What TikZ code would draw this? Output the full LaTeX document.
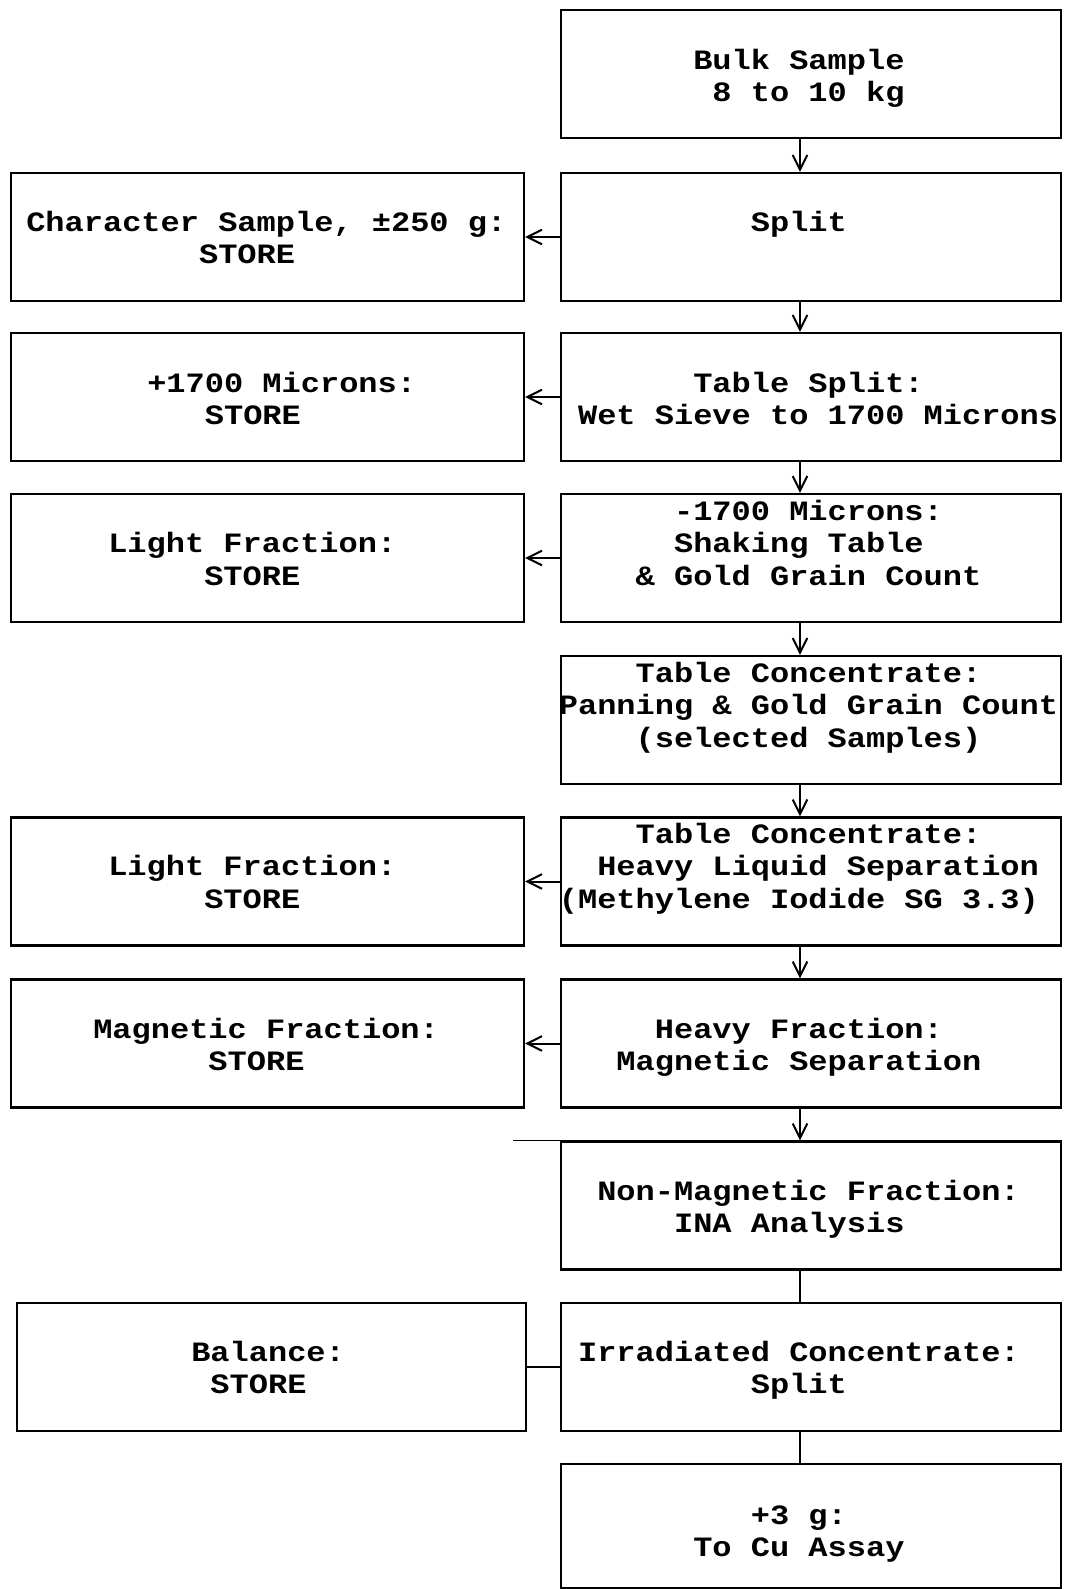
\documentclass[tikz,border=0pt]{standalone}
\usepackage{fontspec}
\newfontfamily\typew[FakeStretch=1.142857]{Liberation Mono}
\usetikzlibrary{arrows.meta}
\newlength\chw \setlength\chw{14.4pt}
\newcommand\pd[1]{\hspace*{#1\chw}}
\newcommand\fs{\rule{0pt}{18pt}}
\begin{document}
\begin{tikzpicture}[x=0.75pt,y=-0.75pt,
  box/.style={draw,line width=1.6pt,rectangle,inner sep=0pt,minimum height=96pt},
  rbox/.style={box,minimum width=375pt},
  lbox/.style={box,minimum width=384.75pt},
  txt/.style={anchor=north west,inner sep=0pt,align=left,font=\typew\bfseries\fontsize{21}{24.4}\selectfont},
  arr/.style={line width=1.5pt,-{Straight Barb[length=11pt,width=11pt,line width=1.5pt]}},
  ln/.style={line width=1.5pt}]
\useasboundingbox (0,0) rectangle (1066,1589);
\coordinate (ax) at (800,0);
% right column
\node[rbox] (b1) at (811,74) {};
\node[rbox] (b2) at (811,237) {};
\node[rbox] (b3) at (811,397) {};
\node[rbox] (b4) at (811,558) {};
\node[rbox] (b5) at (811,720) {};
\node[rbox] (b6) at (811,881.5) {};
\node[rbox] (b7) at (811,1043.5) {};
\node[rbox] (b8) at (811,1205.5) {};
\node[rbox] (b9) at (811,1367) {};
\node[rbox,minimum height=93pt] (b10) at (811,1526) {};
% left column
\node[lbox] (l2) at (267.5,237) {};
\node[lbox] (l3) at (267.5,397) {};
\node[lbox] (l4) at (267.5,558) {};
\node[lbox] (l6) at (267.5,881.5) {};
\node[lbox] (l7) at (267.5,1043.5) {};
\node[box,minimum width=381.75pt] (l9) at (271.5,1367) {};
% texts right
\node[txt] (t1) at (693,45) {\fs Bulk Sample\\\pd{1}8 to 10 kg};
\node[txt] (t2) at (750.6,207) {\fs Split};
\node[txt] (t3) at (577.8,368) {\fs\pd{6}Table Split:\\Wet Sieve to 1700 Microns};
\node[txt] (t4) at (635.4,496) {\fs\pd{2}-1700 Microns:\\\pd{2}Shaking Table\\\& Gold Grain Count};
\node[txt] (t5) at (558.6,658) {\fs\pd{4}Table Concentrate:\\Panning \& Gold Grain Count\\\pd{4}(selected Samples)};
\node[txt] (t6) at (558.6,819) {\fs\pd{4}Table Concentrate:\\\pd{2}Heavy Liquid Separation\\(Methylene Iodide SG 3.3)};
\node[txt] (t7) at (616.2,1014) {\fs\pd{2}Heavy Fraction:\\Magnetic Separation};
\node[txt] (t8) at (597,1176) {\fs Non-Magnetic Fraction:\\\pd{4}INA Analysis};
\node[txt] (t9) at (577.8,1337) {\fs Irradiated Concentrate:\\\pd{9}Split};
\node[txt] (t10) at (693,1500) {\fs\pd{3}+3 g:\\To Cu Assay};
% texts left
\node[txt] (s2) at (26,207) {\fs Character Sample, ±250 g:\\\pd{9}STORE};
\node[txt] (s3) at (147,368) {\fs +1700 Microns:\\\pd{3}STORE};
\node[txt] (s4) at (108,528.5) {\fs Light Fraction:\\\pd{5}STORE};
\node[txt] (s6) at (108,851.5) {\fs Light Fraction:\\\pd{5}STORE};
\node[txt] (s7) at (93,1014) {\fs Magnetic Fraction:\\\pd{6}STORE};
\node[txt] (s9) at (191,1337) {\fs Balance:\\\pd{1}STORE};
% vertical connectors
\draw[arr] (b1.south -| ax) -- (b2.north -| ax);
\draw[arr] (b2.south -| ax) -- (b3.north -| ax);
\draw[arr] (b3.south -| ax) -- (b4.north -| ax);
\draw[arr] (b4.south -| ax) -- (b5.north -| ax);
\draw[arr] (b5.south -| ax) -- (b6.north -| ax);
\draw[arr] (b6.south -| ax) -- (b7.north -| ax);
\draw[arr] (b7.south -| ax) -- (b8.north -| ax);
\draw[ln] (b8.south -| ax) -- (b9.north -| ax);
\draw[ln] (b9.south -| ax) -- (b10.north -| ax);
% horizontal connectors
\draw[arr] (b2.west) -- (l2.east);
\draw[arr] (b3.west) -- (l3.east);
\draw[arr] (b4.west) -- (l4.east);
\draw[arr] (b6.west) -- (l6.east);
\draw[arr] (b7.west) -- (l7.east);
\draw[ln] (b9.west) -- (l9.east);
% short stray rule at top of row 8
\draw[line width=1.2pt] (b8.north west) -- ++(-47,0);
\end{tikzpicture}
\end{document}
